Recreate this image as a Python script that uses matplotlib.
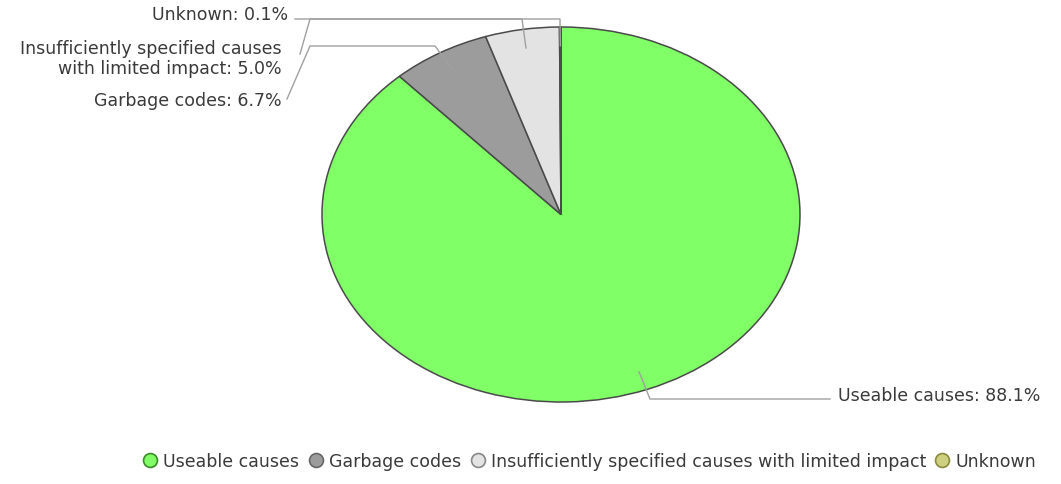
import numpy as np
import matplotlib
matplotlib.use("Agg")
import matplotlib.pyplot as plt
from matplotlib.lines import Line2D

# Data
categories = ["Useable causes", "Garbage codes",
              "Insufficiently specified causes with limited impact", "Unknown"]
label_texts = ["Useable causes: 88.1%", "Garbage codes: 6.7%",
               "Insufficiently specified causes\nwith limited impact: 5.0%", "Unknown: 0.1%"]
shares = [88.1, 6.7, 5.0, 0.1]
colors = ["#80ff66", "#9c9c9c", "#e3e3e3", "#cfcf80"]

W, H = 1061, 485
plt.rcParams['font.family'] = ['DejaVu Sans']
fig = plt.figure(figsize=(W / 100, H / 100), dpi=100)

# Pie axes (stretched ellipse like the reference)
cx, cy, rx, ry = 561, 215.5, 239, 187.5
ax = fig.add_axes([(cx - rx) / W, (H - cy - ry) / H, 2 * rx / W, 2 * ry / H])
wedges, _ = ax.pie(shares, colors=colors, startangle=90, counterclock=False,
                   radius=1, wedgeprops=dict(edgecolor="#4a4a4a", linewidth=1.1))
ax.set_xlim(-1, 1)
ax.set_ylim(-1, 1)
ax.set_aspect('auto')
ax.axis('off')

# Overlay axes in pixel coordinates for labels and connectors
ov = fig.add_axes([0, 0, 1, 1], zorder=5)
ov.set_xlim(0, W)
ov.set_ylim(H, 0)
ov.axis('off')
ov.patch.set_alpha(0)

# anchor points inside each slice
total = sum(shares)
cum = np.cumsum([0] + shares[:-1])
anchors = []
for c, s in zip(cum, shares):
    ang = np.deg2rad(90 - (c + s / 2) / total * 360)
    px = cx + 0.9 * rx * np.cos(ang)
    py = cy - 0.9 * ry * np.sin(ang)
    anchors.append((px, py))

line_kw = dict(color="#a0a0a0", lw=1.0)
fs = 12.5
txt_kw = dict(color="#3a3a3a", fontsize=fs, va='center')

# Useable causes
a = anchors[0]
ov.plot([a[0], 650, 830], [a[1], 400, 400], **line_kw)
ov.text(838, 396, label_texts[0], ha='left', **txt_kw)

# Garbage codes
a = anchors[1]
ov.plot([287, 310, 435, a[0]], [100, 47, 47, a[1]], **line_kw)
ov.text(282, 101, label_texts[1], ha='right', **txt_kw)

# Insufficiently specified
a = anchors[2]
ov.plot([300, 310, 522, a[0]], [55, 20, 20, a[1]], **line_kw)
ov.text(282, 59, label_texts[2], ha='right', multialignment='right',
        linespacing=1.2, **txt_kw)

# Unknown
a = anchors[3]
ov.plot([295, 560, a[0]], [20, 20, a[1]], **line_kw)
ov.text(288, 15, label_texts[3], ha='right', **txt_kw)

# Legend
edge = ["#3a8a2a", "#666666", "#888888", "#8a8a40"]
handles = [Line2D([], [], marker='o', ls='', markersize=10, markerfacecolor=c,
                  markeredgecolor=e, markeredgewidth=1.2) for c, e in zip(colors, edge)]
fig.legend(handles, categories, loc='center', bbox_to_anchor=(589 / W, 1 - 462 / H),
           ncol=4, frameon=False, fontsize=fs, handletextpad=0.25,
           columnspacing=0.45, handlelength=1.0, labelcolor="#3a3a3a")

fig.savefig("out.png", dpi=100)
